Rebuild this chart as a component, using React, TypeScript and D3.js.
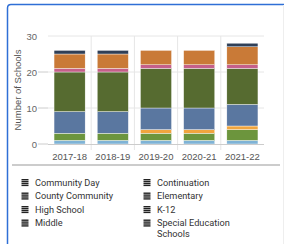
import React from 'react';
import * as d3 from 'd3';

const years = ['2017-18', '2018-19', '2019-20', '2020-21', '2021-22'];

// series in legend order; stacked so the first series sits on top
const seriesNames = [
  'Community Day',
  'Continuation',
  'County Community',
  'Elementary',
  'High School',
  'K-12',
  'Middle',
  'Special Education Schools',
];
const seriesColors = ['#2f3f57', '#c97a37', '#c5608a', '#566b30', '#5a77a0', '#f0a53e', '#6c953d', '#7fb3d6'];

const communityDay = [1, 1, 0, 0, 1];
const continuation = [4, 4, 4, 4, 5];
const countyCommunity = [1, 1, 1, 1, 1];
const elementary = [11, 11, 11, 11, 10];
const highSchool = [6, 6, 6, 6, 6];
const k12 = [0, 0, 1, 1, 1];
const middle = [2, 2, 2, 2, 3];
const specialEd = [1, 1, 1, 1, 1];

const yTicks = [0, 10, 20, 30];

const W = 284;
const H = 244;
const plot = { left: 48, right: 264, top: 36, bottom: 144 };

const App = () => {
  const values = [communityDay, continuation, countyCommunity, elementary, highSchool, k12, middle, specialEd];
  const rows = years.map((yr, i) => {
    const r: any = { year: yr };
    seriesNames.forEach((n, s) => (r[n] = values[s][i]));
    return r;
  });
  // bottom-up order is the reverse of the legend
  const stack = d3.stack().keys([...seriesNames].reverse());
  const layers = stack(rows);

  const x = d3.scaleBand().domain(years).range([plot.left, plot.right]).paddingInner(0.28).paddingOuter(0.14);
  const y = d3.scaleLinear().domain([0, 30]).range([plot.bottom, plot.top]);
  const step = x.step();

  const legendRows = d3.range(Math.ceil(seriesNames.length / 2));

  return (
    <svg width={W} height={H} style={{ position: 'absolute', left: 0, top: 0, background: '#fff' }}>
      {/* card frame */}
      <path d={`M7.5,${H} L7.5,8 Q7.5,4.5 11,4.5 L${W},4.5`} fill="none" stroke="#2f6fd6" strokeWidth={1.5} />
      <line x1={283.5} x2={283.5} y1={5} y2={H} stroke="#eeeeee" />
      <line x1={12} x2={280} y1={165} y2={165} stroke="#cccccc" strokeWidth={2} />

      {/* gridlines */}
      {yTicks.filter(t => t > 0).map(t => (
        <line key={t} x1={plot.left} x2={plot.right} y1={y(t)} y2={y(t)} stroke="#e6e6e6" />
      ))}
      {years.slice(1).map(yr => (
        <line key={yr} x1={(x(yr) as number) - (step - x.bandwidth()) / 2} x2={(x(yr) as number) - (step - x.bandwidth()) / 2}
          y1={plot.top} y2={plot.bottom + 6} stroke="#e6e6e6" />
      ))}
      {yTicks.filter(t => t < 30).map(t => (
        <line key={'t' + t} x1={38} x2={plot.left} y1={y(t)} y2={y(t)} stroke="#cccccc" />
      ))}

      {/* bars */}
      {layers.map((layer, li) => (
        <g key={layer.key} fill={seriesColors[seriesColors.length - 1 - li]}>
          {layer.map((d, i) => d[1] - d[0] > 0 && (
            <rect key={i} x={x(years[i])} y={y(d[1])} width={x.bandwidth()} height={y(d[0]) - y(d[1])}
              stroke="#ffffff" strokeWidth={0.4} />
          ))}
        </g>
      ))}

      {/* x axis */}
      <line x1={plot.left} x2={plot.right} y1={plot.bottom + 0.5} y2={plot.bottom + 0.5} stroke="#cccccc" />
      {years.map(yr => (
        <text key={yr} x={(x(yr) as number) + x.bandwidth() / 2} y={160} textAnchor="middle"
          fontFamily="Liberation Sans, Arial, sans-serif" fontSize={9.5} fill="#555">{yr}</text>
      ))}

      {/* y axis */}
      {yTicks.map(t => (
        <text key={t} x={37} y={y(t) + 3.5} textAnchor="end"
          fontFamily="Liberation Sans, Arial, sans-serif" fontSize={9.5} fill="#666">{t}</text>
      ))}
      <text transform={`translate(20.5,${(plot.top + plot.bottom) / 2}) rotate(-90)`} textAnchor="middle"
        fontFamily="Liberation Sans, Arial, sans-serif" fontSize={9.5} fill="#555">Number of Schools</text>

      {/* legend */}
      {legendRows.map(r => [0, 1].map(c => {
        const name = seriesNames[r * 2 + c];
        const lx = c === 0 ? 21.5 : 143.5;
        const ly = 182.5 + r * 13.5;
        const lines = name === 'Special Education Schools' ? ['Special Education', 'Schools'] : [name];
        return (
          <g key={name}>
            {d3.range(4).map(k => (
              <rect key={k} x={lx} y={ly - 3.5 + k * 1.9} width={7} height={1.4} fill="#222" />
            ))}
            <text x={lx + 13.5} y={ly + 3} fontFamily="Roboto, sans-serif" fontSize={9.2} fill="#333">
              {lines.map((l, k) => (
                <tspan key={k} x={lx + 13.5} dy={k === 0 ? 0 : 10.5}>{l}</tspan>
              ))}
            </text>
          </g>
        );
      }))}
    </svg>
  );
};

export default App;
